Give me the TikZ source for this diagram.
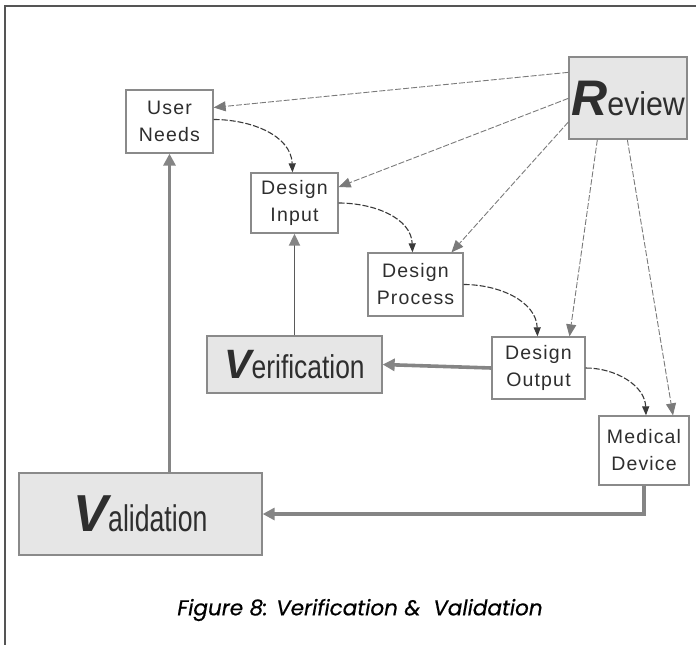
\documentclass[tikz,border=0pt]{standalone}
\usepackage{fontspec}
\usetikzlibrary{arrows.meta,calc}
\setmainfont{Liberation Sans}
\newfontfamily\boxfont{Liberation Sans}[LetterSpace=6]
\newfontfamily\capfont{Poppins}[FakeBold=0.5]
\definecolor{framegray}{HTML}{555555}
\definecolor{boxline}{HTML}{8A8A8A}
\definecolor{boxfill}{HTML}{E6E6E6}
\definecolor{revline}{HTML}{7A7A7A}
\definecolor{flowline}{HTML}{3A3A3A}
\definecolor{thickline}{HTML}{858585}
\definecolor{thinline}{HTML}{5A5A5A}
\definecolor{inkgray}{HTML}{2E2E2E}

\tikzset{
  plainbox/.style={draw=boxline, line width=1.3pt, fill=white, inner sep=0pt,
    align=center, text=inkgray, font=\boxfont\fontsize{19.5}{27}\selectfont},
  bigbox/.style={draw=boxline, line width=1.3pt, fill=boxfill, inner sep=0pt,
    text=inkgray},
  reviewarrow/.style={color=revline, line width=0.9pt, dash pattern=on 6pt off 2pt,
    -{Triangle[length=12pt,width=10pt]}},
  flowarrow/.style={color=flowline, line width=1.1pt, dash pattern=on 6pt off 2pt,
    -{Triangle[length=9pt,width=7pt]}},
  thickarrow/.style={color=thickline, line width=3.6pt,
    -{Triangle[length=12pt,width=12pt]}},
  thinarrow/.style={color=thinline, line width=1.8pt,
    -{Triangle[length=12pt,width=11pt, color=thickline]}},
}

\begin{document}
\begin{tikzpicture}[x=1pt, y=-1pt]
\useasboundingbox (0,0) rectangle (696,645);

% open frame: top and left rules
\draw[framegray, line width=2pt] (696,6) -- (5,6) -- (5,645);

% boxes
\node[bigbox, minimum width=118pt, minimum height=82pt] (rev) at (628,98)
  {{\fontsize{50}{50}\selectfont\bfseries\itshape R}\scalebox{0.92}[1]{\fontsize{33}{33}\selectfont eview}};
\node[plainbox, minimum width=87pt, minimum height=63pt] (un) at (169.5,121.5) {User\\Needs};
\node[plainbox, minimum width=87pt, minimum height=60pt] (di) at (294.5,203) {Design\\Input};
\node[plainbox, minimum width=95pt, minimum height=63pt] (dp) at (415.5,284.5) {Design\\Process};
\node[plainbox, minimum width=93pt, minimum height=62pt] (do) at (538.5,368) {Design\\Output};
\node[plainbox, minimum width=90pt, minimum height=69pt] (md) at (644,450.5) {Medical\\Device};
\node[bigbox, minimum width=175pt, minimum height=57pt] (ver) at (294.5,364.5)
  {{\fontsize{41}{41}\selectfont\bfseries\itshape V}\scalebox{0.8}[1]{\fontsize{33}{33}\selectfont erification}};
\node[bigbox, minimum width=243pt, minimum height=82pt] (val) at (140.5,514)
  {{\fontsize{52}{52}\selectfont\bfseries\itshape V}\scalebox{0.72}[1]{\fontsize{37}{37}\selectfont alidation}};

% review arrows
\draw[reviewarrow] ([yshift=-16pt]rev.north west) -- ([yshift=14pt]un.east);
\draw[reviewarrow] ([yshift=-42pt]rev.north west) -- ([yshift=16pt]di.east);
\draw[reviewarrow] ([yshift=-24pt]rev.west) -- ([xshift=36pt]dp.north);
\draw[reviewarrow] ([xshift=29pt]rev.south west) -- ([xshift=31pt]do.north);
\draw[reviewarrow] ([xshift=59pt]rev.south west) -- ([xshift=29pt]md.north);

% design flow (curved)
\draw[flowarrow] ([yshift=2pt]un.east) to[out=0, in=92] ([xshift=-2pt]di.north);
\draw[flowarrow] (di.east) to[out=0, in=92] ([xshift=-3pt]dp.north);
\draw[flowarrow] (dp.east) to[out=0, in=92] ([xshift=-1pt]do.north);
\draw[flowarrow] (do.east) to[out=0, in=92] ([xshift=2pt]md.north);

% verification and validation paths
\draw[thickarrow] (do.west) -- (ver.east);
\draw[thinarrow] (ver.north) -- (di.south);
\draw[thickarrow] (un.south |- val.north) -- (un.south);
\draw[thickarrow] (md.south) -- (md.south |- val.east) -- (val.east);

% caption
\node[font=\capfont\itshape\fontsize{21.5}{21.5}\selectfont, text=black] (cap) at (360,610)
  {Figure 8: Verification \&\ \ Validation};
\end{tikzpicture}
\end{document}
